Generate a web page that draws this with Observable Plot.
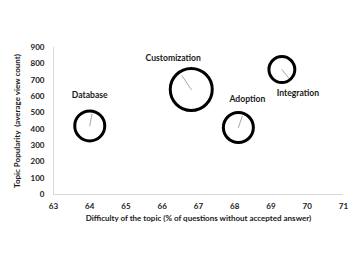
<!DOCTYPE html>
<html><head><meta charset="utf-8">
<script src="https://cdn.jsdelivr.net/npm/d3@7"></script>
<script src="https://cdn.jsdelivr.net/npm/@observablehq/plot@0.6"></script>
<style>body{margin:0;background:#fff} svg text{font-weight:700}</style>
</head><body><div id="chart"></div>
<script>
const topics = ["Database", "Customization", "Adoption", "Integration"];
const difficulty = [64.0, 66.8, 68.1, 69.3];
const popularity = [420, 643, 410, 765];
const bubbleSize = [51, 100, 51, 38];
const xTicks = [63, 64, 65, 66, 67, 68, 69, 70, 71];
const yTicks = [0, 100, 200, 300, 400, 500, 600, 700, 800, 900];

const data = topics.map((t, i) => ({topic: t, x: difficulty[i], y: popularity[i], s: bubbleSize[i]}));

// layout of labels / leader lines (pixels)
const labelOffset = {Database: [0, -31], Customization: [-18, -31], Adoption: [9, -28], Integration: [16, 24]};
const leader = {Database: [4, -21], Customization: [-16, -24], Adoption: [7, -20], Integration: [13, 16]};
const lineShape = {draw(context, l) { context.moveTo(0, 0); context.lineTo(0, -l); }};

const plot = Plot.plot({
  width: 360, height: 270,
  marginLeft: 53, marginRight: 17, marginTop: 47, marginBottom: 76,
  style: {fontFamily: "Lato, 'Open Sans', sans-serif", fontWeight: "bold", fontSize: "8px", color: "#1a1a1a", background: "#fff"},
  x: {domain: [63, 71], ticks: xTicks, tickSize: 0, tickPadding: 9, tickFormat: d => String(d),
      label: "Difficulty of the topic (% of questions without accepted answer)", labelAnchor: "center", labelOffset: 26, labelArrow: "none"},
  y: {domain: [0, 900], ticks: yTicks, tickSize: 0, tickPadding: 9, tickFormat: d => String(d),
      label: "Topic Popularity  (average view count)", labelAnchor: "center", labelOffset: 39, labelArrow: "none"},
  r: {type: "sqrt", domain: [0, 100], range: [0, 21]},
  marks: [
    Plot.ruleY([0], {stroke: "#d9d9d9", strokeWidth: 1}),
    Plot.ruleX([63], {stroke: "#d9d9d9", strokeWidth: 1}),
    Plot.vector(data, {x: "x", y: "y", anchor: "start", shape: lineShape,
      length: d => Math.hypot(...leader[d.topic]),
      rotate: d => Math.atan2(leader[d.topic][0], -leader[d.topic][1]) * 180 / Math.PI,
      stroke: "#a6a6a6", strokeWidth: 0.9}),
    Plot.dot(data, {x: "x", y: "y", r: "s", stroke: "#000", strokeWidth: 3, fill: "none"}),
    ...topics.map(t => Plot.text(data.filter(d => d.topic === t), {x: "x", y: "y", text: "topic",
      dx: labelOffset[t][0], dy: labelOffset[t][1], fontSize: 8.6, fontWeight: "bold", fill: "#1a1a1a"}))
  ]
});
document.getElementById("chart").append(plot);
</script>
</body></html>
